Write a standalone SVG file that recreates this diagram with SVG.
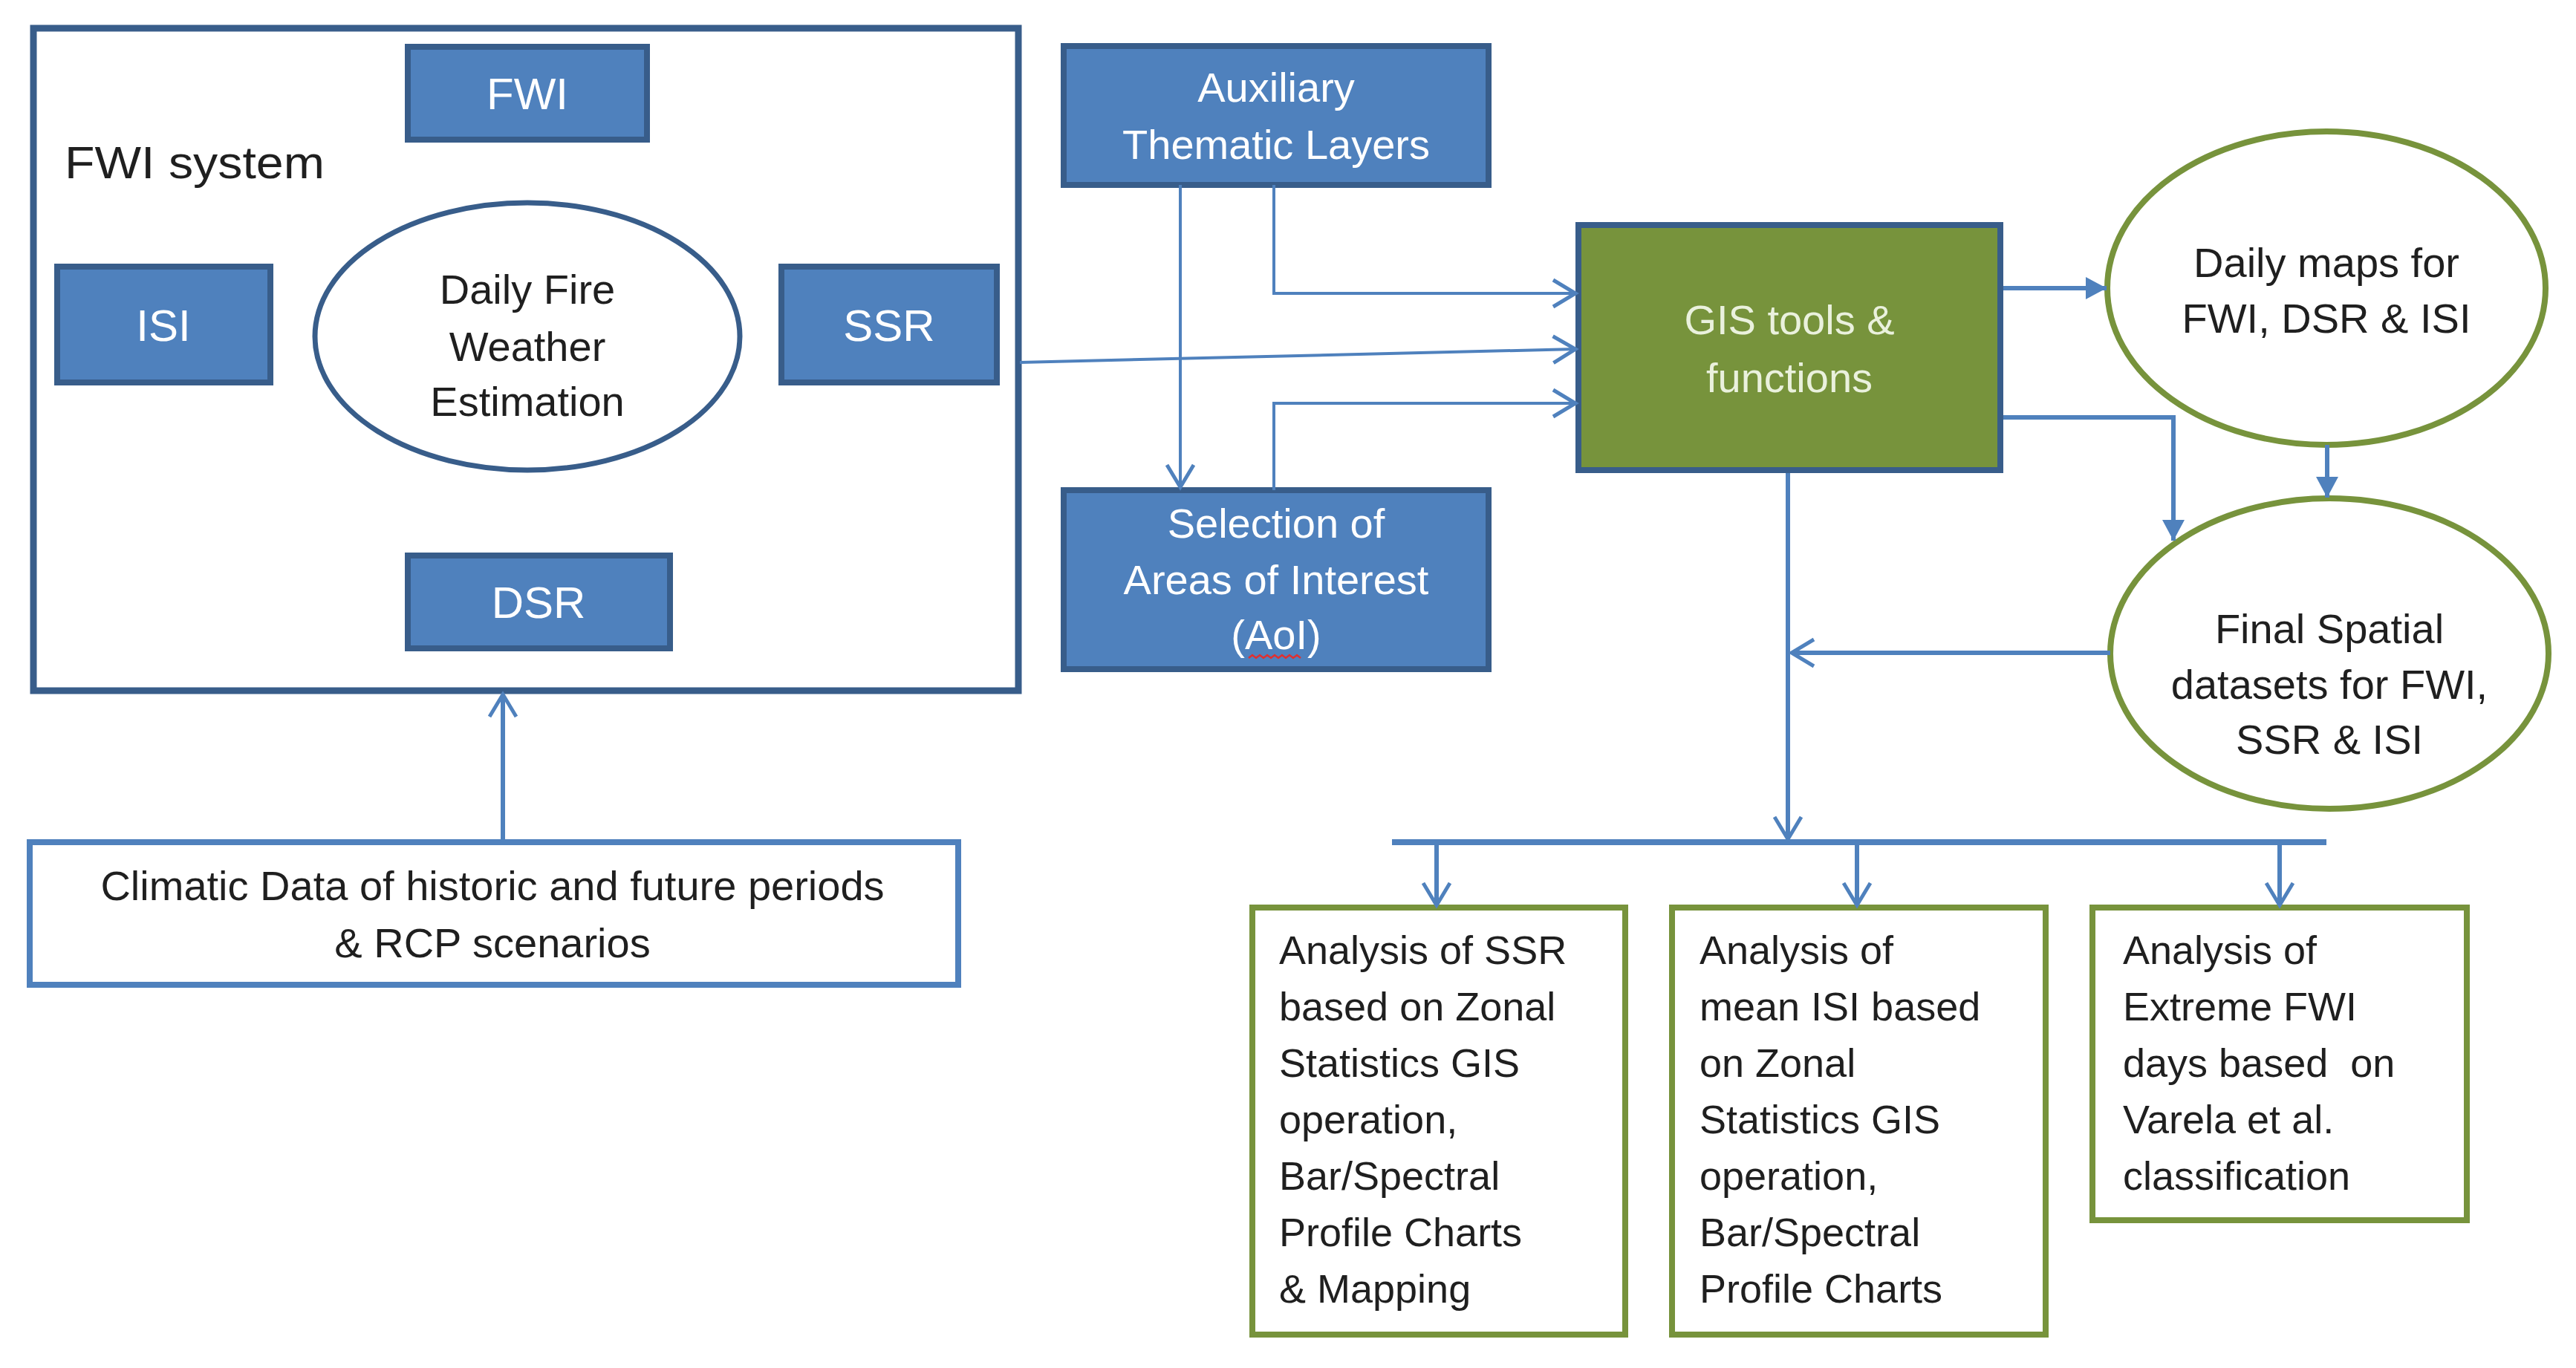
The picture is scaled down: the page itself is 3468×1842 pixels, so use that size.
<svg xmlns="http://www.w3.org/2000/svg" width="3468" height="1842" viewBox="0 0 3468 1842">
<style>
text{font-family:"Liberation Sans",Arial,sans-serif;}
.bluebox{fill:#4F81BD;stroke:#385D8A;stroke-width:8;}
.gisbox{fill:#77933C;stroke:#385D8A;stroke-width:8;}
.frame{fill:#FFFFFF;stroke:#385D8A;stroke-width:9;}
.greenbox{fill:#FFFFFF;stroke:#77933C;stroke-width:8;}
.greenell{fill:#FFFFFF;stroke:#77933C;stroke-width:8;}
.blueell{fill:#FFFFFF;stroke:#385D8A;stroke-width:7;}
.climbox{fill:#FFFFFF;stroke:#4F81BD;stroke-width:8;}
.wt{fill:#FFFFFF;font-size:56px;text-anchor:middle;}
.big{font-size:60px;}
.gt{fill:#EAF1DD;font-size:56px;text-anchor:middle;}
.dt{fill:#1F1F1F;font-size:56px;text-anchor:middle;}
.lt{fill:#1F1F1F;font-size:54px;}
.c{fill:none;stroke:#4F81BD;}
.thin{stroke-width:4;}
.med{stroke-width:6;}
.thick{stroke-width:8;}
</style>
<defs>
<marker id="open" markerUnits="userSpaceOnUse" markerWidth="60" markerHeight="60" viewBox="-45 -30 60 60" refX="0" refY="0" orient="auto">
<path d="M-30,-18 L0,0 L-30,18" fill="none" stroke="#4F81BD" stroke-width="5"/>
</marker>
<marker id="filled" markerUnits="userSpaceOnUse" markerWidth="50" markerHeight="50" viewBox="-40 -25 50 50" refX="0" refY="0" orient="auto">
<path d="M-28,-15 L0,0 L-28,15 Z" fill="#4F81BD"/>
</marker>
</defs>

<g id="fwi-system">
<rect class="frame" x="45" y="38" width="1326" height="892"/>
<text x="87" y="240" style="fill:#1F1F1F;font-size:62px" textLength="350" lengthAdjust="spacingAndGlyphs">FWI system</text>
</g>
<g id="fwi">
<rect class="bluebox" x="549" y="63" width="322" height="125"/>
<text class="wt big" x="710" y="147">FWI</text>
</g>
<g id="isi">
<rect class="bluebox" x="77" y="359" width="287" height="156"/>
<text class="wt big" x="220" y="459">ISI</text>
</g>
<g id="ssr">
<rect class="bluebox" x="1052" y="359" width="290" height="156"/>
<text class="wt big" x="1197" y="459">SSR</text>
</g>
<g id="dsr">
<rect class="bluebox" x="549" y="748" width="353" height="125"/>
<text class="wt big" x="725" y="832">DSR</text>
</g>
<g id="daily-fire-weather">
<ellipse class="blueell" cx="710" cy="453" rx="286" ry="180"/>
<text class="dt" x="710" y="409">Daily Fire</text>
<text class="dt" x="710" y="486">Weather</text>
<text class="dt" x="710" y="560">Estimation</text>
</g>
<g id="climatic-data">
<rect class="climbox" x="40" y="1134" width="1250" height="192"/>
<text class="dt" x="663" y="1212">Climatic Data of historic and future periods</text>
<text class="dt" x="663" y="1289">&amp; RCP scenarios</text>
</g>
<g id="auxiliary">
<rect class="bluebox" x="1432" y="62" width="572" height="187"/>
<text class="wt" x="1718" y="137">Auxiliary</text>
<text class="wt" x="1718" y="214">Thematic Layers</text>
</g>
<g id="selection-aoi">
<rect class="bluebox" x="1432" y="660" width="572" height="241"/>
<text class="wt" x="1718" y="724">Selection of</text>
<text class="wt" x="1718" y="800">Areas of Interest</text>
<text class="wt" x="1718" y="874">(AoI)</text>
<path d="M1681,886 l5,-4 l5,4 l5,-4 l5,4 l5,-4 l5,4 l5,-4 l5,4 l5,-4 l5,4 l5,-4 l5,4 l5,-4 l5,4" fill="none" stroke="#E03030" stroke-width="2.5"/>
</g>
<g id="gis-tools">
<rect class="gisbox" x="2125" y="303" width="568" height="330"/>
<text class="gt" x="2409" y="450">GIS tools &amp;</text>
<text class="gt" x="2409" y="528">functions</text>
</g>
<g id="daily-maps">
<ellipse class="greenell" cx="3132" cy="388" rx="295" ry="211"/>
<text class="dt" x="3132" y="373">Daily maps for</text>
<text class="dt" x="3132" y="448">FWI, DSR &amp; ISI</text>
</g>
<g id="final-datasets">
<ellipse class="greenell" cx="3136" cy="880" rx="295" ry="209"/>
<text class="dt" x="3136" y="866">Final Spatial</text>
<text class="dt" x="3136" y="941">datasets for FWI,</text>
<text class="dt" x="3136" y="1015">SSR &amp; ISI</text>
</g>
<g id="analysis-ssr">
<rect class="greenbox" x="1686" y="1222" width="502" height="575"/>
<text class="lt" x="1722" y="1298">Analysis of SSR</text>
<text class="lt" x="1722" y="1374">based on Zonal</text>
<text class="lt" x="1722" y="1450">Statistics GIS</text>
<text class="lt" x="1722" y="1526">operation,</text>
<text class="lt" x="1722" y="1602">Bar/Spectral</text>
<text class="lt" x="1722" y="1678">Profile Charts</text>
<text class="lt" x="1722" y="1754">&amp; Mapping</text>
</g>
<g id="analysis-isi">
<rect class="greenbox" x="2251" y="1222" width="503" height="575"/>
<text class="lt" x="2288" y="1298">Analysis of</text>
<text class="lt" x="2288" y="1374">mean ISI based</text>
<text class="lt" x="2288" y="1450">on Zonal</text>
<text class="lt" x="2288" y="1526">Statistics GIS</text>
<text class="lt" x="2288" y="1602">operation,</text>
<text class="lt" x="2288" y="1678">Bar/Spectral</text>
<text class="lt" x="2288" y="1754">Profile Charts</text>
</g>
<g id="analysis-fwi">
<rect class="greenbox" x="2817" y="1222" width="504" height="421"/>
<text class="lt" x="2858" y="1298">Analysis of</text>
<text class="lt" x="2858" y="1374">Extreme FWI</text>
<text class="lt" x="2858" y="1450" style="white-space:pre">days based  on</text>
<text class="lt" x="2858" y="1526">Varela et al.</text>
<text class="lt" x="2858" y="1602">classification</text>
</g>

<g id="connectors">
<path class="c med" d="M677,1134 L677,935" marker-end="url(#open)"/>
<path class="c thin" d="M1589,249 L1589,656" marker-end="url(#open)"/>
<path class="c thin" d="M1715,249 L1715,395 L2121,395" marker-end="url(#open)"/>
<path class="c thin" d="M1373,488 L2121,470" marker-end="url(#open)"/>
<path class="c thin" d="M1715,660 L1715,543 L2121,543" marker-end="url(#open)"/>
<path class="c med" d="M2697,388 L2836,388" marker-end="url(#filled)"/>
<path class="c med" d="M2697,562 L2926,562 L2926,728" marker-end="url(#filled)"/>
<path class="c med" d="M3133,599 L3133,670" marker-end="url(#filled)"/>
<path class="c med" d="M2841,879 L2412,879" marker-end="url(#open)"/>
<path class="c med" d="M2407,637 L2407,1130" marker-end="url(#open)"/>
<path class="c thick" d="M1874,1134 L3132,1134"/>
<path class="c med" d="M1934,1134 L1934,1219" marker-end="url(#open)"/>
<path class="c med" d="M2500,1134 L2500,1219" marker-end="url(#open)"/>
<path class="c med" d="M3069,1134 L3069,1219" marker-end="url(#open)"/>
</g>
</svg>
